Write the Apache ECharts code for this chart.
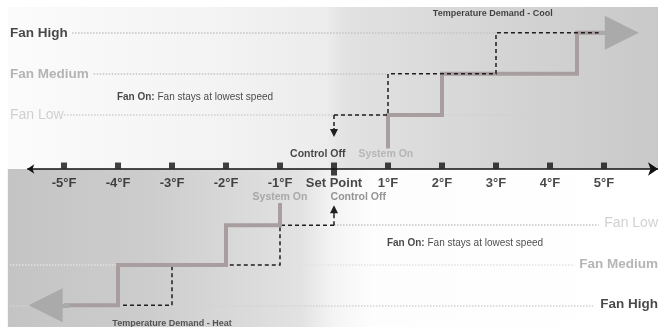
<!DOCTYPE html>
<html>
<head>
<meta charset="utf-8">
<script src="https://cdn.jsdelivr.net/npm/echarts@6/dist/echarts.min.js"></script>
<style>
  html, body { margin: 0; padding: 0; background: #fff; }
  #chart { width: 662px; height: 327px; }
</style>
</head>
<body>
<div id="chart"></div>
<script>
// temperature offsets from the set point (°F) and their labels
const tempTicks = [-5, -4, -3, -2, -1, 0, 1, 2, 3, 4, 5]
const tickLabels = ['-5°F', '-4°F', '-3°F', '-2°F', '-1°F', 'Set Point', '1°F', '2°F', '3°F', '4°F', '5°F']
const fanNames = ['Fan Low', 'Fan Medium', 'Fan High']
// height of each fan speed (low, medium, high) above / below the axis
const coolLevels = [1.32, 2.32, 3.32]
const heatLevels = [-1.37, -2.34, -3.32]
// temperature where each fan speed starts (system on) and stops (control off)
const coolSystemOn = [1, 2, 4.5]
const coolControlOff = [0, 1, 3]
const heatSystemOn = [-1, -2, -4]
const heatControlOff = [0, -1, -3]

const FONT = '"Liberation Sans", Arial, sans-serif'
const chart = echarts.init(document.getElementById('chart'))

// staircase: optional vertical lead-in, then step through the levels
function stairs (xs, levels, startY, endX) {
  const pts = []
  if (startY !== null) pts.push([xs[0], startY])
  for (let i = 0; i < levels.length; i++) {
    pts.push([xs[i], levels[i]])
    const nextX = i + 1 < xs.length ? xs[i + 1] : endX
    pts.push([nextX, levels[i]])
  }
  return pts
}

function text (x, y, str, opt) {
  return {
    value: [x, y],
    name: str,
    label: Object.assign({
      show: true,
      position: 'inside',
      formatter: '{b}',
      fontFamily: FONT,
      fontSize: 10.5,
      fontWeight: 'bold',
      color: '#1a1a1a',
      align: 'center',
      verticalAlign: 'middle'
    }, opt || {})
  }
}

const fanOnRich = {
  formatter: '{b|Fan On:} Fan stays at lowest speed',
  fontWeight: 'normal',
  fontSize: 10,
  align: 'left',
  rich: { b: { fontWeight: 'bold', fontSize: 10, fontFamily: FONT, color: '#1a1a1a' } }
}

const labels = [
  text(-6, coolLevels[2], fanNames[2], { align: 'left', fontSize: 13.5 }),
  text(-6, coolLevels[1], fanNames[1], { align: 'left', fontSize: 13.5, color: '#a3a3a3' }),
  text(-6, coolLevels[0], fanNames[0], { align: 'left', fontSize: 14, fontWeight: 'normal', color: '#c6c6c6' }),
  text(-4.02, 1.76, '', fanOnRich),
  text(2.94, 3.78, 'Temperature Demand - Cool', { fontSize: 9 }),
  text(-0.3, 0.37, 'Control Off'),
  text(0.96, 0.37, 'System On', { color: '#ababab' }),
  text(-1.0, -0.68, 'System On', { color: '#9a9a9a' }),
  text(0.45, -0.68, 'Control Off', { color: '#7a7a7a' }),
  text(0.98, -1.80, '', fanOnRich),
  text(6, heatLevels[0] + 0.05, fanNames[0], { align: 'right', fontSize: 14, fontWeight: 'normal', color: '#c6c6c6' }),
  text(6, heatLevels[1] + 0.02, fanNames[1], { align: 'right', fontSize: 13.5, color: '#a3a3a3' }),
  text(6, heatLevels[2] + 0.03, fanNames[2], { align: 'right', fontSize: 13.5 }),
  text(-3.0, -3.76, 'Temperature Demand - Heat', { fontSize: 9, color: '#333' })
].concat(tempTicks.map((t, i) => text(t, -0.34, tickLabels[i], { fontSize: 13 })))

const dotted = (x0, x1, y, color) => ({ coords: [[x0, y], [x1, y]], lineStyle: { color: color } })

const dashedStyle = { color: '#1e1e1e', width: 1.5, type: [4, 3], opacity: 1 }

const option = {
  animation: false,
  grid: { left: 0, right: 0, top: 0, bottom: 0 },
  xAxis: { type: 'value', min: -6.185, max: 6.074, show: false },
  yAxis: { type: 'value', min: -3.85, max: 4.12, show: false },
  series: [
    {
      // background shading
      type: 'line',
      data: [[-6, 0], [6, 0]],
      symbol: 'none',
      lineStyle: { opacity: 0 },
      silent: true,
      markArea: {
        silent: true,
        data: [
          [{
            coord: [-6.04, 0],
            itemStyle: {
              color: new echarts.graphic.LinearGradient(0, 0, 1, 0, [
                { offset: 0, color: '#fbfbfb' },
                { offset: 0.3, color: '#f4f4f4' },
                { offset: 0.49, color: '#ececec' },
                { offset: 0.52, color: '#e2e2e2' },
                { offset: 0.75, color: '#d5d5d5' },
                { offset: 1, color: '#c9c9c9' }
              ])
            }
          }, { coord: [6.0, 3.95] }],
          [{
            coord: [-6.04, -3.85],
            itemStyle: {
              color: new echarts.graphic.LinearGradient(0, 0, 1, 0, [
                { offset: 0, color: '#c4c4c4' },
                { offset: 0.22, color: '#cdcdcd' },
                { offset: 0.45, color: '#e2e2e2' },
                { offset: 0.5, color: '#f4f4f4' },
                { offset: 0.56, color: '#fdfdfd' },
                { offset: 1, color: '#ffffff' }
              ])
            }
          }, { coord: [6.0, 0] }]
        ]
      }
    },
    {
      // fan speed guide lines
      type: 'lines',
      coordinateSystem: 'cartesian2d',
      silent: true,
      clip: false,
      lineStyle: { type: [1.5, 1.5], width: 1.5, opacity: 1 },
      data: [
        dotted(-4.85, 3.0, coolLevels[2], '#c4c4c4'),
        dotted(-4.45, 1.0, coolLevels[1], '#c4c4c4'),
        dotted(-5.0, 4.1, coolLevels[0], '#cfcfcf'),
        dotted(0, 4.9, heatLevels[0], '#c4c4c4'),
        dotted(-6, 4.45, heatLevels[1], '#e2e2e2'),
        dotted(-6, 4.8, heatLevels[2], '#d2d2d2')
      ]
    },
    {
      // heat control off path (under the system on line)
      type: 'lines',
      coordinateSystem: 'cartesian2d',
      polyline: true,
      silent: true,
      lineStyle: dashedStyle,
      data: [
        { coords: stairs(heatControlOff, heatLevels, null, -4) },
        { coords: [[0, heatLevels[0]], [0, -0.98]] }
      ]
    },
    {
      // system on staircases
      type: 'lines',
      coordinateSystem: 'cartesian2d',
      polyline: true,
      silent: true,
      lineStyle: { color: '#a89e9f', width: 4, opacity: 1, join: 'miter' },
      data: [
        { coords: stairs(coolSystemOn, coolLevels, 0.5, 5.0) },
        { coords: stairs(heatSystemOn, heatLevels, -0.83, -5.0) }
      ]
    },
    {
      // cool control off path (over the system on line)
      type: 'lines',
      coordinateSystem: 'cartesian2d',
      polyline: true,
      silent: true,
      lineStyle: dashedStyle,
      data: [
        { coords: stairs(coolControlOff, coolLevels, null, 5.2) },
        { coords: [[0, coolLevels[0]], [0, 0.88]] }
      ]
    },
    {
      // control off arrow heads
      type: 'lines',
      coordinateSystem: 'cartesian2d',
      silent: true,
      symbol: ['none', 'triangle'],
      symbolSize: [6, 8],
      lineStyle: { color: '#1e1e1e', width: 1.5, opacity: 1 },
      data: [
        { coords: [[0, 1.0], [0, 0.88]] },
        { coords: [[0, -1.1], [0, -0.98]] }
      ]
    },
    {
      // demand arrows
      type: 'lines',
      coordinateSystem: 'cartesian2d',
      silent: true,
      clip: false,
      symbol: ['none', 'triangle'],
      symbolSize: [18, 34],
      lineStyle: { color: '#aaaaaa', width: 4, opacity: 1 },
      data: [
        { coords: [[4.9, coolLevels[2]], [5.33, coolLevels[2]]] },
        { coords: [[-4.9, heatLevels[2]], [-5.34, heatLevels[2]]] }
      ]
    },
    {
      // temperature axis
      type: 'lines',
      coordinateSystem: 'cartesian2d',
      silent: true,
      clip: false,
      symbol: ['arrow', 'arrow'],
      symbolSize: [7, 10],
      lineStyle: { color: '#111', width: 1.5, opacity: 1 },
      data: [{ coords: [[-5.68, 0], [6.0, 0]] }]
    },
    {
      type: 'scatter',
      silent: true,
      symbol: 'rect',
      itemStyle: { color: '#111' },
      data: tempTicks.map((t) => t === 0
        ? { value: [t, 0], symbolSize: [6, 13], symbolOffset: [0, 0] }
        : { value: [t, 0], symbolSize: 6, symbolOffset: [0, -3.5] })
    },
    {
      type: 'scatter',
      silent: true,
      symbolSize: 0,
      data: labels
    }
  ]
}

chart.setOption(option)
</script>
</body>
</html>
